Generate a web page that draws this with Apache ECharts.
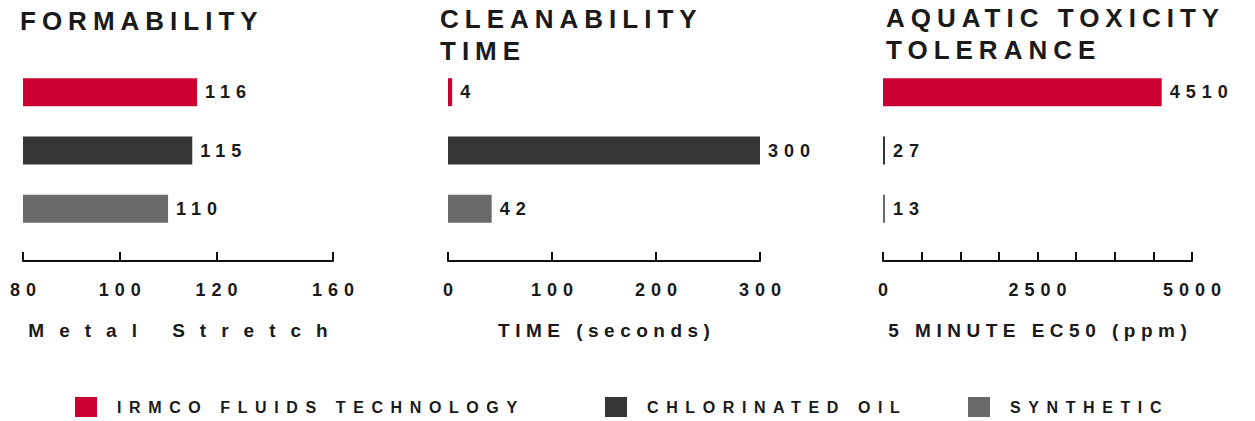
<!DOCTYPE html>
<html><head><meta charset="utf-8">
<script src="https://cdn.jsdelivr.net/npm/echarts@6/dist/echarts.min.js"></script>
<style>html,body{margin:0;padding:0;background:#fff}#c{width:1255px;height:421px}</style>
</head><body><div id="c"></div>
<script>
// ---- data ----
const products = ['IRMCO FLUIDS TECHNOLOGY', 'CHLORINATED OIL', 'SYNTHETIC'];
const productColors = ['#cb0032', '#353535', '#6a6a6a'];
const panelTitles = ['FORMABILITY', 'CLEANABILITY\nTIME', 'AQUATIC TOXICITY\nTOLERANCE'];
const axisNames = ['Metal Stretch', 'TIME (seconds)', '5 MINUTE EC50 (ppm)'];
const formability = [116, 115, 110];
const cleanability = [4, 300, 42];
const aquaticTolerance = [4510, 27, 13];
const formabilityTicks = [80, 100, 120, 160];
const cleanabilityTicks = [0, 100, 200, 300];
const aquaticTicks = [0, 625, 1250, 1875, 2500, 3125, 3750, 4375, 5000];
const aquaticTickLabels = [0, 2500, 5000];

const panelValues = [formability, cleanability, aquaticTolerance];

// ---- layout ----
const FONT = "'Liberation Sans', Arial, sans-serif";
const TXT = '#1a1a1a';
const grids = [
  { left: 23, width: 310 },
  { left: 448, width: 312 },
  { left: 883, width: 309 }
];
const titlePos = [[20, 5], [440, 3], [886, 2]];
const legendLeft = [75, 605, 968];

const chart = echarts.init(document.getElementById('c'), null, { renderer: 'svg' });

function xAxisFor(i) {
  const base = {
    type: 'value', gridIndex: i, position: 'bottom', offset: 23,
    name: axisNames[i], nameLocation: 'middle', nameGap: 60,
    nameTextStyle: { fontFamily: FONT, fontWeight: 'bold', fontSize: 19, lineHeight: 19, color: TXT },
    axisLine: { show: true, breakLine: false, lineStyle: { color: '#111', width: 2 } },
    axisTick: { show: true, inside: true, length: 9, lineStyle: { color: '#111', width: 2 } },
    axisLabel: {
      margin: 20, fontFamily: FONT, fontWeight: 'bold', fontSize: 18, lineHeight: 18, color: TXT,
      formatter: v => String(v)
    },
    splitLine: { show: false }
  };
  if (i === 0) {
    base.min = formabilityTicks[0];
    base.max = formabilityTicks[formabilityTicks.length - 1];
    base.breaks = [{ start: 125, end: 155, gap: '22%' }];
    base.breakArea = { show: false };
    base.axisTick.customValues = formabilityTicks;
    base.axisLabel.customValues = formabilityTicks;
  } else if (i === 1) {
    base.min = cleanabilityTicks[0];
    base.max = cleanabilityTicks[cleanabilityTicks.length - 1];
    base.interval = 100;
    base.axisTick.customValues = cleanabilityTicks;
    base.axisLabel.customValues = cleanabilityTicks;
  } else {
    base.min = aquaticTicks[0];
    base.max = aquaticTicks[aquaticTicks.length - 1];
    base.interval = 625;
    base.axisTick.customValues = aquaticTicks;
    base.axisLabel.customValues = aquaticTickLabels;
  }
  return base;
}

const series = [];
panelValues.forEach((vals, p) => {
  products.forEach((name, i) => {
    series.push({
      type: 'bar', name: name, xAxisIndex: p, yAxisIndex: p,
      data: products.map((_, j) => (j === i ? vals[i] : null)),
      barWidth: 28, barGap: '-100%', barMinHeight: 2,
      itemStyle: { color: productColors[i] },
      label: { show: true, position: 'right', distance: 8, fontFamily: FONT, fontWeight: 'bold', fontSize: 18, color: TXT },
      silent: true
    });
  });
});

const option = {
  animation: false,
  backgroundColor: '#fff',
  title: panelTitles.map((t, i) => ({
    text: t, left: titlePos[i][0], top: titlePos[i][1], padding: 0,
    textStyle: { fontFamily: FONT, fontWeight: 'bold', fontSize: 26, lineHeight: 32, color: TXT }
  })),
  legend: products.map((name, i) => ({
    data: [name], left: legendLeft[i], top: 397, padding: 0,
    icon: 'rect', itemWidth: 22, itemHeight: 20, selectedMode: false,
    textStyle: { fontFamily: FONT, fontWeight: 'bold', fontSize: 16, color: TXT, padding: [0, 0, 0, 15] }
  })),
  grid: grids.map(g => ({ left: g.left, width: g.width, top: 63, height: 175, containLabel: false })),
  xAxis: [0, 1, 2].map(xAxisFor),
  yAxis: [0, 1, 2].map(i => ({
    type: 'category', gridIndex: i, data: products, inverse: true, show: false
  })),
  series: series
};
chart.setOption(option);

// letter spacing (the reference uses widely tracked type)
const titleLines = panelTitles.join('\n').split('\n');
function spacingFor(t) {
  if (products.includes(t)) return 7.6;
  if (t === 'Metal Stretch') return 15;
  if (/^\d+$/.test(t)) return 6;
  if (titleLines.includes(t)) return 6;
  if (axisNames.includes(t)) return 5.5;
  return 0;
}
function applySpacing() {
  document.querySelectorAll('#c svg text').forEach(el => {
    if (el.getAttribute('data-ls')) return;
    const s = spacingFor(el.textContent.trim());
    if (!s) return;
    el.style.letterSpacing = s + 'px';
    const anchor = el.getAttribute('text-anchor');
    const x = parseFloat(el.getAttribute('x') || '0');
    if (anchor === 'middle') el.setAttribute('x', x + s / 2);
    else if (anchor === 'end') el.setAttribute('x', x + s);
    el.setAttribute('data-ls', '1');
  });
}
applySpacing();
chart.on('finished', applySpacing);
setTimeout(applySpacing, 50);
</script>
</body></html>
